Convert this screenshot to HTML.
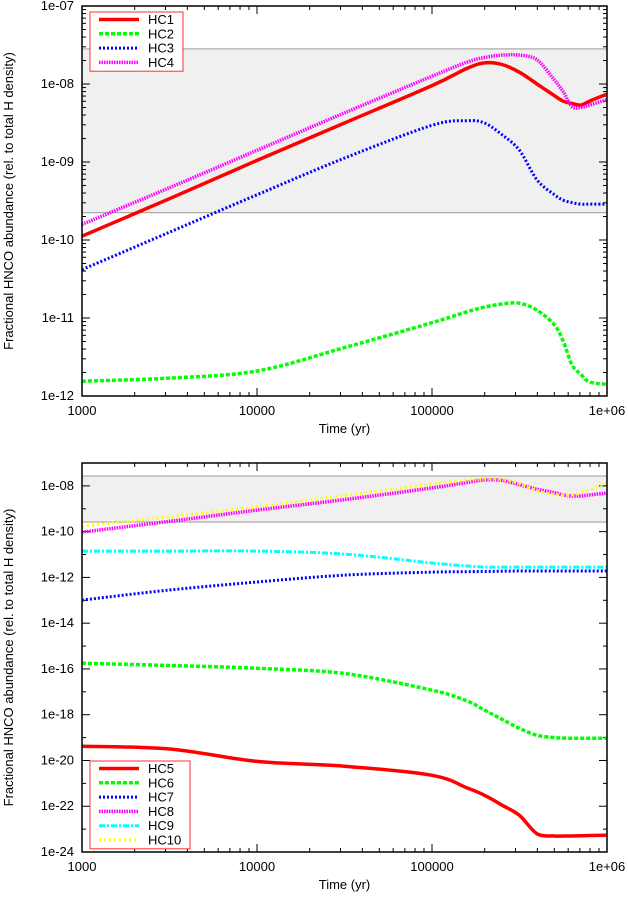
<!DOCTYPE html>
<html><head><meta charset="utf-8"><style>
body{margin:0;background:#fff}
svg text{font-family:"Liberation Sans",sans-serif;font-size:13px;fill:#000}
</style></head><body>
<svg id="c" width="628" height="897"></svg>
<script>
const times=[3,3.5,4,4.5,5,5.2,5.3,5.4,5.5,5.6,5.7,5.75,5.8,5.85,5.9,6];
const hc1=[-9.95,-9.47,-8.98,-8.5,-8.02,-7.8,-7.73,-7.75,-7.85,-8.0,-8.15,-8.22,-8.25,-8.27,-8.22,-8.13];
const hc2=[-11.81,-11.77,-11.68,-11.38,-11.06,-10.92,-10.86,-10.82,-10.81,-10.9,-11.09,-11.3,-11.6,-11.72,-11.82,-11.85];
const hc3=[-10.38,-9.9,-9.42,-8.95,-8.53,-8.47,-8.5,-8.65,-8.85,-9.23,-9.42,-9.49,-9.52,-9.54,-9.54,-9.54];
const hc4=[-9.8,-9.33,-8.85,-8.37,-7.9,-7.72,-7.66,-7.63,-7.63,-7.69,-7.95,-8.1,-8.29,-8.3,-8.27,-8.2];
const hc5=[-19.38,-19.5,-20.04,-20.25,-20.65,-21.2,-21.52,-21.95,-22.4,-23.2,-23.3,-23.3,-23.3,-23.29,-23.28,-23.27];
const hc6=[-15.75,-15.85,-15.97,-16.2,-16.93,-17.4,-17.8,-18.2,-18.6,-18.9,-19.0,-19.02,-19.03,-19.03,-19.03,-19.03];
const hc7=[-12.99,-12.55,-12.2,-11.9,-11.77,-11.75,-11.74,-11.73,-11.72,-11.72,-11.72,-11.72,-11.72,-11.72,-11.72,-11.72];
const hc8=[-10.02,-9.55,-9.06,-8.6,-8.09,-7.85,-7.74,-7.76,-7.95,-8.15,-8.3,-8.4,-8.44,-8.44,-8.4,-8.31];
const hc9=[-10.85,-10.85,-10.85,-10.98,-11.37,-11.5,-11.55,-11.55,-11.55,-11.55,-11.55,-11.55,-11.55,-11.55,-11.55,-11.55];
const hc10=[-9.76,-9.35,-8.92,-8.42,-7.92,-7.75,-7.7,-7.72,-7.9,-8.22,-8.38,-8.4,-8.4,-8.3,-8.15,-7.87];
const xTicks=["1000","10000","100000","1e+06"];
const topYTicks=["1e-07","1e-08","1e-09","1e-10","1e-11","1e-12"];
const botYTicks=["1e-08","1e-10","1e-12","1e-14","1e-16","1e-18","1e-20","1e-22","1e-24"];
const band=[-7.55,-9.65];
const NS="http://www.w3.org/2000/svg";
const svg=document.getElementById('c');
function el(t,a,p){const e=document.createElementNS(NS,t);for(const k in a)e.setAttribute(k,a[k]);(p||svg).appendChild(e);return e;}
const styles=[
 {c:'#f00',d:'',w:3.5},{c:'#0f0',d:'4,2',w:3.5},{c:'#00f',d:'2,2',w:3},
 {c:'#f0f',d:'1.5,1',w:3.5},{c:'#0ff',d:'6,2,2,2',w:3},{c:'#ff0',d:'2,3',w:3}];
function smooth(pts){let d='M'+pts[0][0].toFixed(1)+','+pts[0][1].toFixed(1);
 for(let i=0;i<pts.length-1;i++){const p0=pts[Math.max(i-1,0)],p1=pts[i],p2=pts[i+1],p3=pts[Math.min(i+2,pts.length-1)];
  const c1=[p1[0]+(p2[0]-p0[0])/6,p1[1]+(p2[1]-p0[1])/6],c2=[p2[0]-(p3[0]-p1[0])/6,p2[1]-(p3[1]-p1[1])/6];
  d+='C'+c1.map(v=>v.toFixed(1))+' '+c2.map(v=>v.toFixed(1))+' '+p2.map(v=>v.toFixed(1));}
 return d;}
function panel(name,top,bot,ymax,ymin,yTicks,yStep,series,labels,legY,bandR){
 const L=82,R=607;
 const xs=v=>L+(v-3)/3*(R-L);
 const ys=v=>top+(ymax-v)/(ymax-ymin)*(bot-top);
 const g=el('g',{});
 
 const b=el('rect',{x:L,y:ys(bandR[0]),width:R-L,height:ys(bandR[1])-ys(bandR[0]),fill:'#f0f0f0',stroke:'#999','stroke-width':1},g);
 
 for(let d=3;d<6;d++)for(let m=1;m<=10;m++){const x=xs(d+Math.log10(m));const len=m==1||m==10?8:4;
  el('line',{x1:x,x2:x,y1:bot,y2:bot-len,stroke:'#000'},g);el('line',{x1:x,x2:x,y1:top,y2:top+len,stroke:'#000'},g);}
 xTicks.forEach((t,i)=>{const tx=el('text',{x:xs(3+i),y:bot+19,'text-anchor':'middle'},g);tx.textContent=t;
  });
 yTicks.forEach((t,i)=>{const v=ymax-(yStep*i)-(name=='bottom-panel'?1:0);const y=ys(v);
  el('line',{x1:L,x2:L+8,y1:y,y2:y,stroke:'#000'},g);el('line',{x1:R,x2:R-8,y1:y,y2:y,stroke:'#000'},g);
  const tx=el('text',{x:L-8,y:y+4,'text-anchor':'end'},g);tx.textContent=t;
  });
 if(name=='top-panel'){for(let d=ymin;d<ymax;d++)for(let m=2;m<10;m++){const y=ys(d+Math.log10(m));
  el('line',{x1:L,x2:L+4,y1:y,y2:y,stroke:'#000'},g);el('line',{x1:R,x2:R-4,y1:y,y2:y,stroke:'#000'},g);}}
 else{for(let d=ymin+1;d<ymax;d+=2){const y=ys(d);el('line',{x1:L,x2:L+4,y1:y,y2:y,stroke:'#000'},g);el('line',{x1:R,x2:R-4,y1:y,y2:y,stroke:'#000'},g);}}
 const cp=el('clipPath',{id:'cp'+name},g);el('rect',{x:L,y:top,width:R-L,height:bot-top},cp);
 series.forEach((s,i)=>{const st=styles[i];
  const p=el('path',{d:smooth(s.map((v,j)=>[xs(times[j]),ys(v)])),fill:'none',stroke:st.c,'stroke-width':st.w,'stroke-dasharray':st.d,'clip-path':'url(#cp'+name+')'},g);
  });
 el('rect',{x:L,y:top,width:R-L,height:bot-top,fill:'none',stroke:'#000','stroke-width':1.5},g);
 const lg=el('g',{},g);
 el('rect',{x:90,y:legY,width:labels.length>4?100:93,height:labels.length*14.3+2,fill:'#fff',stroke:'#f33'},lg);
 labels.forEach((l,i)=>{const y=legY+7.5+i*14.3;const st=styles[i];
  const ln=el('line',{x1:99,x2:139,y1:y,y2:y,stroke:st.c,'stroke-width':st.w,'stroke-dasharray':st.d},lg);
  
  const t=el('text',{x:148,y:y+4.5},lg);t.textContent=l;
  });
 const xt=el('text',{x:(L+R)/2,y:bot+37,'text-anchor':'middle'},g);xt.textContent='Time (yr)';
 
 const yt=el('text',{x:0,y:0,'text-anchor':'middle',transform:`translate(13,${(top+bot)/2}) rotate(-90)`},g);
 yt.textContent='Fractional HNCO abundance (rel. to total H density)';
 
}
panel('top-panel',6,396,-7,-12,topYTicks,1,[hc1,hc2,hc3,hc4],['HC1','HC2','HC3','HC4'],12,band);
panel('bottom-panel',463,852,-7,-24,botYTicks,2,[hc5,hc6,hc7,hc8,hc9,hc10],['HC5','HC6','HC7','HC8','HC9','HC10'],761,[-7.57,-9.58]);
</script>
</body></html>
